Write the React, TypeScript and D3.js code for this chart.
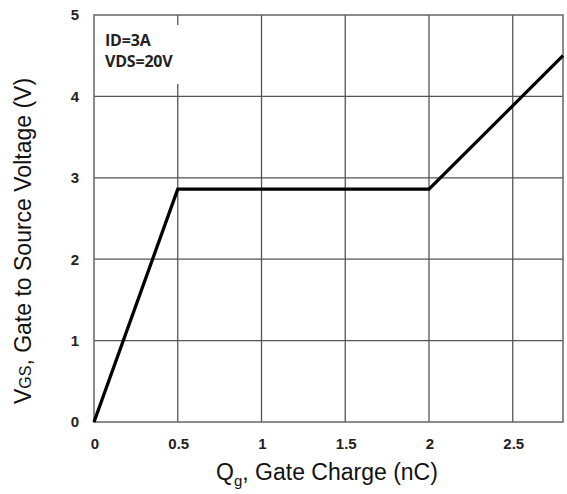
import React from "react";
import * as d3 from "d3";

const qg = [0, 0.5, 2.0, 2.8];
const vgs = [0, 2.86, 2.86, 4.5];
const xTicks = [0, 0.5, 1, 1.5, 2, 2.5];
const xTickLabels = ["0", "0.5", "1", "1.5", "2", "2.5"];
const yTicks = [0, 1, 2, 3, 4, 5];
const legendLines = ["ID=3A", "VDS=20V"];

export default function App() {
  const W = 567, H = 494;
  const m = { l: 94, r: 4, t: 15, b: 72 };
  const x = d3.scaleLinear().domain([0, 2.8]).range([m.l, W - m.r]);
  const y = d3.scaleLinear().domain([0, 5]).range([H - m.b, m.t]);
  const line = d3.line<number>().x((_, i) => x(qg[i])).y((d) => y(d));
  const grid = "#555";
  const font = "'Liberation Sans', Arial, sans-serif";
  return (
    <svg width={W} height={H} style={{ position: "absolute", left: 0, top: 0, background: "#fff" }}>
      {xTicks.slice(1).map((t) => (
        <line key={"gx" + t} x1={x(t)} x2={x(t)} y1={y(0)} y2={y(5)} stroke={grid} strokeWidth={1.3} />
      ))}
      {yTicks.slice(1, 5).map((t) => (
        <line key={"gy" + t} x1={x(0)} x2={x(2.8)} y1={y(t)} y2={y(t)} stroke={grid} strokeWidth={1.3} />
      ))}
      <rect x={x(0)} y={y(5)} width={x(2.8) - x(0)} height={y(0) - y(5)} fill="none" stroke="#666" strokeWidth={1.5} />
      <rect x={100} y={25} width={90} height={59} fill="#fff" />
      {legendLines.map((s, i) => (
        <text key={s} x={105} y={46 + i * 21} fontFamily="'Open Sans', sans-serif" fontWeight="bold" fontSize={16} fill="#222" letterSpacing={-0.2}>
          {s}
        </text>
      ))}
      <path d={line(vgs) || ""} fill="none" stroke="#000" strokeWidth={3.3} strokeLinejoin="miter" />
      {yTicks.map((t) => (
        <text key={"yt" + t} x={75} y={y(t)} dy="0.36em" textAnchor="middle" fontFamily={font} fontWeight="bold" fontSize={15} fill="#222">
          {t}
        </text>
      ))}
      {xTicks.map((t, i) => (
        <text key={"xt" + t} x={x(t) + 1} y={449} textAnchor="middle" fontFamily={font} fontWeight="bold" fontSize={15} fill="#222">
          {xTickLabels[i]}
        </text>
      ))}
      <text x={327} y={480} textAnchor="middle" fontFamily={font} fontSize={23} fill="#111">
        Q<tspan fontSize={15} dy={6}>g</tspan><tspan dy={-6}>, Gate Charge (nC)</tspan>
      </text>
      <text transform={`translate(31, 241) rotate(-90)`} textAnchor="middle" fontFamily={font} fontSize={23} fill="#111">
        V<tspan fontSize={16}>GS</tspan><tspan>, Gate to Source Voltage (V)</tspan>
      </text>
    </svg>
  );
}
